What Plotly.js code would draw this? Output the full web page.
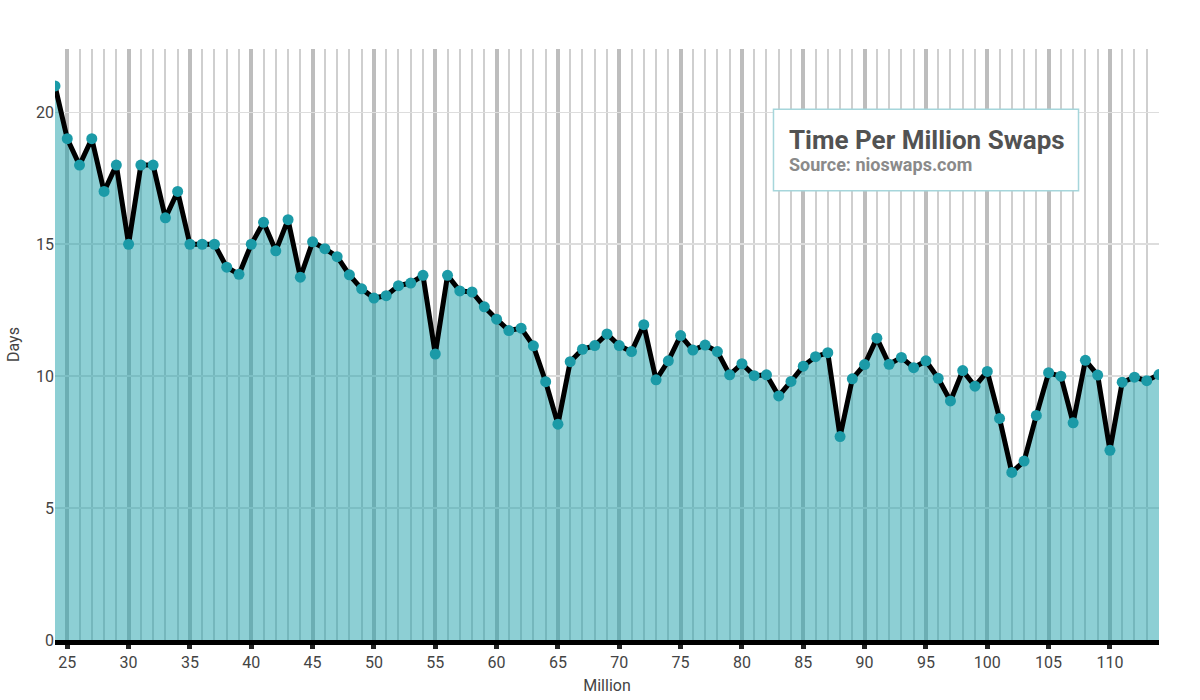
<!DOCTYPE html>
<html>
<head>
<meta charset="utf-8">
<script src="https://cdn.plot.ly/plotly-3.0.1.min.js"></script>
<style>html,body{margin:0;padding:0;background:#fff;}#chart{width:1200px;height:700px;}</style>
</head>
<body>
<div id="chart"></div>
<script>
var millions = [24,25,26,27,28,29,30,31,32,33,34,35,36,37,38,39,40,41,42,43,44,45,46,47,48,49,50,51,52,53,54,55,56,57,58,59,60,61,62,63,64,65,66,67,68,69,70,71,72,73,74,75,76,77,78,79,80,81,82,83,84,85,86,87,88,89,90,91,92,93,94,95,96,97,98,99,100,101,102,103,104,105,106,107,108,109,110,111,112,113,114];
var days = [21.0,19.0,18.0,19.0,17.0,18.0,15.0,18.0,18.0,16.0,17.0,15.0,15.0,15.0,14.13,13.86,15.0,15.83,14.75,15.93,13.75,15.09,14.83,14.53,13.84,13.31,12.96,13.05,13.43,13.53,13.82,10.84,13.82,13.23,13.19,12.63,12.16,11.73,11.82,11.15,9.79,8.18,10.55,11.02,11.16,11.6,11.16,10.93,11.95,9.86,10.58,11.54,10.99,11.18,10.93,10.05,10.47,10.02,10.05,9.25,9.8,10.38,10.74,10.89,7.71,9.9,10.44,11.44,10.45,10.71,10.32,10.58,9.92,9.06,10.21,9.62,10.18,8.4,6.35,6.78,8.51,10.13,10.0,8.23,10.6,10.04,7.19,9.77,9.96,9.83,10.06];
var titleText = 'Time Per Million Swaps';
var sourceText = 'Source: nioswaps.com';
var xTitle = 'Million';
var yTitle = 'Days';

var trace = {
  x: millions, y: days, type: 'scatter', mode: 'lines+markers',
  fill: 'tozeroy', fillcolor: 'rgba(27,160,170,0.5)',
  line: {color: '#000000', width: 5},
  marker: {color: '#1b9aa7', size: 11},
  hoverinfo: 'x+y'
};

var layout = {
  width: 1200, height: 700,
  margin: {l: 55, r: 41, t: 49, b: 60},
  paper_bgcolor: '#ffffff', plot_bgcolor: '#ffffff',
  showlegend: false,
  font: {family: 'Roboto, sans-serif', color: '#444444', size: 16},
  xaxis: {
    range: [24, 114], dtick: 5, tick0: 0,
    showgrid: true, gridcolor: '#bdbdbd', gridwidth: 4,
    minor: {dtick: 1, showgrid: true, gridcolor: '#cfcfcf', gridwidth: 2},
    showline: true, linecolor: '#000000', linewidth: 5,
    ticks: 'outside', ticklen: 4, tickwidth: 5, tickcolor: '#222222',
    zeroline: false,
    tickfont: {size: 16, color: '#444444'},
    title: {text: xTitle, font: {size: 16, color: '#444444'}, standoff: 10}
  },
  yaxis: {
    range: [0, 22.4], dtick: 5, tick0: 0,
    showgrid: true, gridcolor: '#dddddd', gridwidth: 1.5,
    zeroline: false, showline: false, ticks: '',
    tickfont: {size: 16, color: '#444444'},
    title: {text: yTitle, font: {size: 16, color: '#444444'}, standoff: 12}
  },
  shapes: [{
    type: 'rect', xref: 'paper', yref: 'paper',
    x0: 0.6508, x1: 0.9271, y0: 0.7602, y1: 0.898,
    fillcolor: '#ffffff', line: {color: '#a6d6db', width: 1.5}, layer: 'above'
  }],
  annotations: [
    {xref: 'paper', yref: 'paper', x: 0.663, y: 0.846, xanchor: 'left', yanchor: 'middle',
     text: titleText, showarrow: false,
     font: {family: 'Roboto, sans-serif', size: 26, color: '#525252', weight: 'bold'}},
    {xref: 'paper', yref: 'paper', x: 0.663, y: 0.8054, xanchor: 'left', yanchor: 'middle',
     text: sourceText, showarrow: false,
     font: {family: 'Roboto, sans-serif', size: 18, color: '#8a8a8a', weight: 'bold'}}
  ]
};

Plotly.newPlot('chart', [trace], layout, {displayModeBar: false, staticPlot: true});
</script>
</body>
</html>
